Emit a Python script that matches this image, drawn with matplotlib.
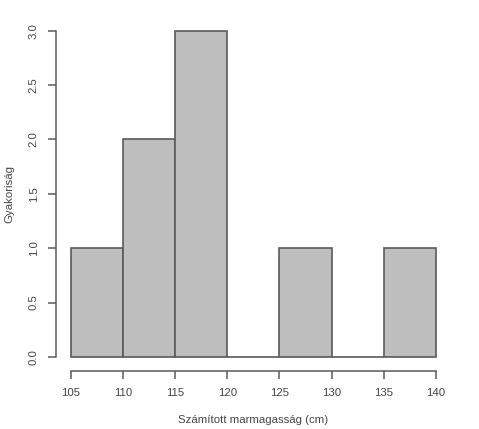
import matplotlib
matplotlib.use("Agg")
import matplotlib.pyplot as plt

# histogram data
bin_edges = [105, 110, 115, 120, 125, 130, 135, 140]
counts = [1, 2, 3, 0, 1, 0, 1]
x_ticks = [105, 110, 115, 120, 125, 130, 135, 140]
y_ticks = [0.0, 0.5, 1.0, 1.5, 2.0, 2.5, 3.0]

plt.rcParams['font.family'] = ['Liberation Sans', 'DejaVu Sans']

W, H = 479, 429
fig = plt.figure(figsize=(W / 100, H / 100), dpi=100)
fig.patch.set_facecolor('white')

# axes placed so that data range maps to the plot region
x0, x1 = 70.7, 436.0
y0, y1 = 357.0, 30.7
ax = fig.add_axes([x0 / W, (H - y0) / H, (x1 - x0) / W, (y0 - y1) / H])
ax.set_xlim(105, 140)
ax.set_ylim(0, 3)

edge = '#5a5a5a'
txt = '#444444'
ax.bar(bin_edges[:-1], counts, width=5, align='edge', color='#bebebe',
       edgecolor=edge, linewidth=1.2, clip_on=False)

for s in ['top', 'right']:
    ax.spines[s].set_visible(False)
ax.spines['left'].set_position(('outward', 10.5))
ax.spines['bottom'].set_position(('outward', 10))
ax.spines['left'].set_bounds(0, 3)
ax.spines['bottom'].set_bounds(105, 140)
for s in ['left', 'bottom']:
    ax.spines[s].set_color(edge)
    ax.spines[s].set_linewidth(1.1)

ax.set_xticks(x_ticks)
ax.set_xticklabels([str(v) for v in x_ticks])
ax.set_yticks(y_ticks)
ax.set_yticklabels(['%.1f' % v for v in y_ticks], rotation=90, va='center')
ax.tick_params(direction='out', length=5.5, width=1.1, color=edge,
               labelcolor=txt, labelsize=8.2, pad=7)

ax.set_xlabel('Számított marmagasság (cm)', fontsize=8.2, color=txt)
ax.set_ylabel('Gyakoriság', fontsize=8.2, color=txt)
# label centres as in the reference
ax.xaxis.set_label_coords((253 - x0) / (x1 - x0), -(420 - y0) / (y0 - y1))
ax.yaxis.set_label_coords((9 - x0) / (x1 - x0), 0.5)
ax.xaxis.label.set_va('center')
ax.yaxis.label.set_va('center')

fig.savefig('out.png', dpi=100)
